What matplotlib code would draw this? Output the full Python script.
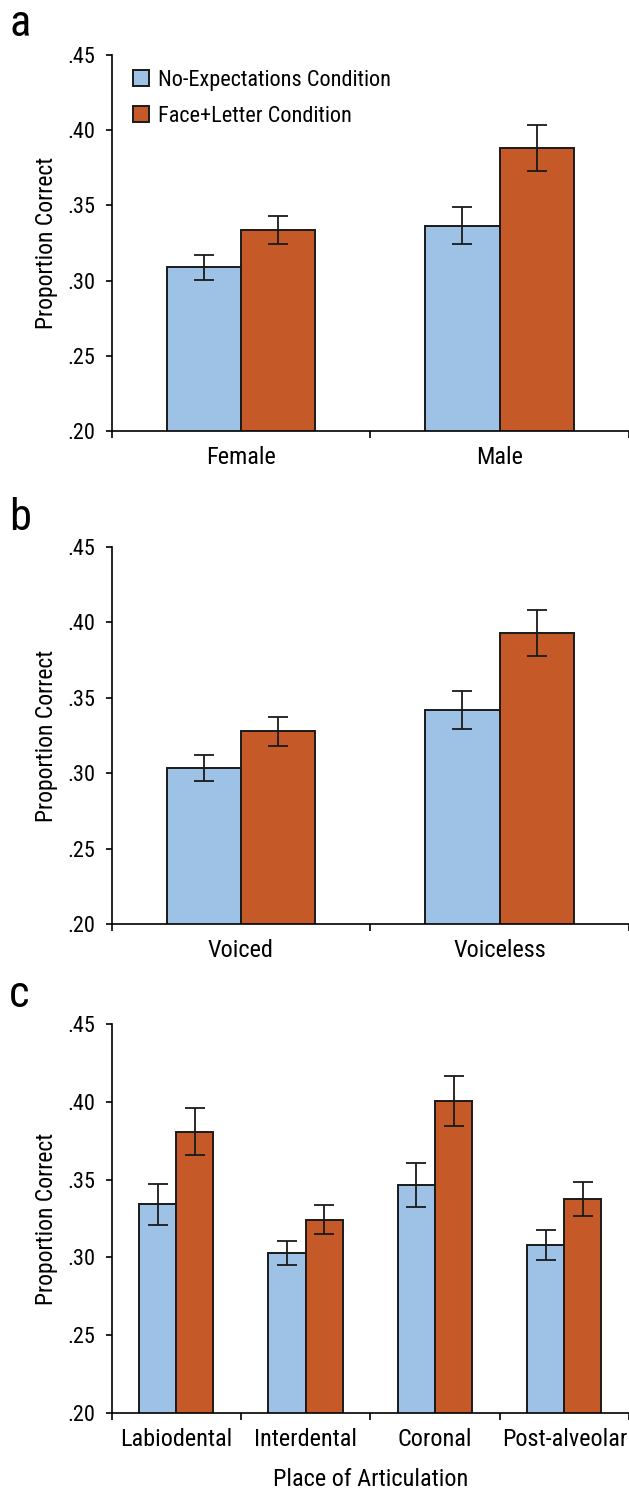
import matplotlib
matplotlib.use("Agg")
import matplotlib.pyplot as plt
import numpy as np

plt.rcParams['font.family'] = ['Roboto Condensed', 'Archivo Narrow', 'Liberation Sans', 'DejaVu Sans']

# data
conditions = ['No-Expectations Condition', 'Face+Letter Condition']
colors = ['#9ec2e6', '#c55a28']

gender_cats = ['Female', 'Male']
gender_noexp = [0.3088, 0.3364]
gender_noexp_err = [0.0082, 0.0123]
gender_face = [0.3338, 0.3881]
gender_face_err = [0.0093, 0.0152]

voicing_cats = ['Voiced', 'Voiceless']
voicing_noexp = [0.3034, 0.3420]
voicing_noexp_err = [0.0085, 0.0124]
voicing_face = [0.3279, 0.3932]
voicing_face_err = [0.0096, 0.0152]

place_cats = ['Labiodental', 'Interdental', 'Coronal', 'Post-alveolar']
place_noexp = [0.3341, 0.3030, 0.3465, 0.3078]
place_noexp_err = [0.0132, 0.0078, 0.0141, 0.0096]
place_face = [0.3808, 0.3243, 0.4003, 0.3377]
place_face_err = [0.0149, 0.0095, 0.0160, 0.0109]

yticks = [0.20, 0.25, 0.30, 0.35, 0.40, 0.45]
ytick_labels = ['.20', '.25', '.30', '.35', '.40', '.45']

W, H = 629, 1490
fig = plt.figure(figsize=(W / 100, H / 100), dpi=100)
edge = '#1a1a1a'


def panel(top, bottom, cats, noexp, noexp_err, face, face_err, letter, letter_y, legend=False):
    left = 111.5 / W
    ax = fig.add_axes([left, 1 - bottom / H, 1 - left, (bottom - top) / H])
    x = np.arange(len(cats))
    bw = 0.287
    ekw = dict(ecolor=edge, elinewidth=1.3, capthick=1.3)
    ax.bar(x - bw / 2, noexp, bw, color=colors[0], edgecolor=edge, linewidth=1.4,
           yerr=noexp_err, capsize=7, error_kw=ekw, label=conditions[0])
    ax.bar(x + bw / 2, face, bw, color=colors[1], edgecolor=edge, linewidth=1.4,
           yerr=face_err, capsize=7, error_kw=ekw, label=conditions[1])
    ax.set_ylim(0.20, 0.45)
    ax.set_xlim(-0.5, len(cats) - 0.5)
    ax.set_yticks(yticks)
    ax.set_yticklabels(ytick_labels)
    ax.set_xticks(x)
    ax.set_xticklabels(cats)
    ax.set_xticks(np.arange(len(cats) + 1) - 0.5, minor=True)
    ax.tick_params(axis='x', which='major', length=0, pad=11, labelsize=17.5)
    ax.tick_params(axis='x', which='minor', length=5, width=1.2, direction='out')
    ax.tick_params(axis='y', length=4.5, width=1.2, labelsize=16, pad=7)
    for s in ['top', 'right']:
        ax.spines[s].set_visible(False)
    for s in ['left', 'bottom']:
        ax.spines[s].set_linewidth(1.2)
    ax.set_ylabel('Proportion Correct', fontsize=17)
    ax.yaxis.set_label_coords((58 - 111.5) / (W - 111.5), 0.5)
    if legend:
        ax.legend(frameon=False, loc='upper left',
                  bbox_to_anchor=(0.041, (bottom - 70) / (bottom - top)),
                  fontsize=16, handlelength=0.72, handleheight=0.72,
                  handletextpad=0.4, labelspacing=0.68, borderpad=0, borderaxespad=0)
    fig.text(9 / W, 1 - letter_y / H, letter, fontsize=32, va='baseline', ha='left')
    return ax


panel(55, 431, gender_cats, gender_noexp, gender_noexp_err,
      gender_face, gender_face_err, 'a', 36, legend=True)
panel(547, 924, voicing_cats, voicing_noexp, voicing_noexp_err,
      voicing_face, voicing_face_err, 'b', 530)
panel(1024, 1413, place_cats, place_noexp, place_noexp_err,
      place_face, place_face_err, 'c', 1007)

fig.text((111.5 + W) / 2 / W, 1 - 1486 / H, 'Place of Articulation', fontsize=17.5,
         ha='center', va='baseline')

fig.savefig('out.png', dpi=100)
